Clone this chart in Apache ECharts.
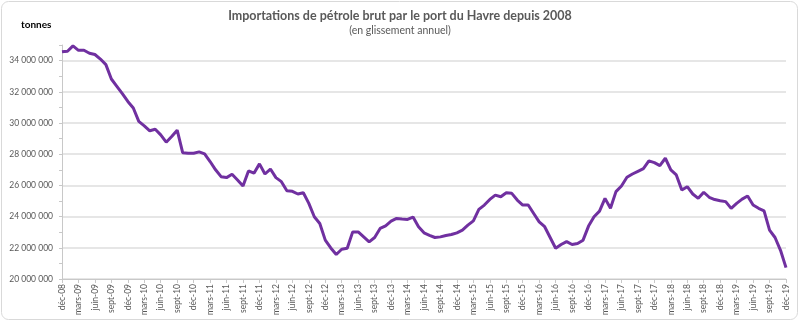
<!DOCTYPE html>
<html><head><meta charset="utf-8">
<script src="https://cdn.jsdelivr.net/npm/echarts@6/dist/echarts.min.js"></script>
<style>html,body{margin:0;padding:0;background:#fff}#c{width:800px;height:322px}</style>
</head><body><div id="c"></div>
<script>
const monthNames = ['janv','févr','mars','avr','mai','juin','juil','août','sept','oct','nov','déc'];
const startYear = 2008, startMonth = 11, nMonths = 133;
const categories = [];
for (let i = 0; i < nMonths; i++) {
  const m = (startMonth + i) % 12;
  const y = startYear + Math.floor((startMonth + i) / 12);
  categories.push(monthNames[m] + '-' + String(y % 100).padStart(2, '0'));
}
const imports = [
  34.56,34.6,34.94,34.66,34.66,34.47,34.39,34.1,33.74,32.82,
  32.35,31.88,31.38,30.96,30.1,29.82,29.5,29.6,29.24,28.77,
  29.13,29.54,28.1,28.06,28.06,28.15,28.02,27.53,27.0,26.56,
  26.5,26.71,26.35,25.96,26.93,26.78,27.38,26.73,27.05,26.5,
  26.24,25.66,25.62,25.45,25.53,24.85,23.99,23.56,22.49,21.99,
  21.57,21.91,21.97,23.02,23.02,22.7,22.38,22.66,23.24,23.41,
  23.71,23.88,23.84,23.82,23.97,23.35,22.96,22.8,22.66,22.7,
  22.79,22.85,22.96,23.13,23.45,23.73,24.46,24.74,25.1,25.38,
  25.27,25.53,25.49,25.06,24.74,24.74,24.2,23.66,23.35,22.66,
  21.97,22.21,22.4,22.21,22.27,22.49,23.39,23.99,24.35,25.17,
  24.53,25.6,25.96,26.52,26.73,26.9,27.07,27.57,27.46,27.27,
  27.74,26.99,26.67,25.7,25.92,25.45,25.17,25.56,25.24,25.09,
  25.02,24.96,24.53,24.85,25.12,25.32,24.74,24.53,24.37,23.13,
  22.66,21.84,20.73
].map(v => Math.round(v * 1e6));
const titleText = 'Importations de pétrole brut par le port du Havre depuis 2008';
const subtitleText = '(en glissement annuel)';
const unitText = 'tonnes';

function fmt(v){ return String(Math.round(v)).replace(/\B(?=(\d{3})+(?!\d))/g, ' '); }

const chart = echarts.init(document.getElementById('c'), null, {renderer:'canvas'});
chart.setOption({
  animation:false,
  textStyle:{fontFamily:'Lato'},
  title:[
    {text:titleText, left:'center', top:4, textStyle:{fontSize:12.5, fontWeight:'bold', color:'#595959', fontFamily:'Lato'}},
    {text:subtitleText, left:'center', top:20, textStyle:{fontSize:10.5, fontWeight:'normal', color:'#595959', fontFamily:'Lato'}},
    {text:unitText, left:16, top:15, textStyle:{fontSize:10, fontWeight:'bold', color:'#000', fontFamily:'Lato'}}
  ],
  graphic:[{type:'rect', shape:{x:1.5,y:1.5,width:796,height:318,r:7}, style:{fill:'none', stroke:'#d9d9d9', lineWidth:1}, silent:true, z:-1}],
  grid:{left:62, right:14, top:45, bottom:43, containLabel:false},
  xAxis:{
    type:'category', data:categories, boundaryGap:false,
    axisLine:{lineStyle:{color:'#c8c8c8', width:1}},
    axisTick:{show:true, interval:2, length:4, lineStyle:{color:'#c8c8c8'}},
    axisLabel:{interval:2, rotate:90, fontSize:8.5, color:'#595959', margin:5, fontFamily:'Lato'},
    splitLine:{show:false}
  },
  yAxis:{
    type:'value', min:20000000, max:35000000, interval:2000000,
    axisLine:{show:true, lineStyle:{color:'#c8c8c8', width:1}},
    axisTick:{show:true, length:3, lineStyle:{color:'#c8c8c8'}},
    minorTick:{show:true, splitNumber:2, length:3, lineStyle:{color:'#c8c8c8'}},
    axisLabel:{formatter:fmt, fontSize:8.5, color:'#595959', margin:9, showMaxLabel:false, fontFamily:'Lato'},
    splitLine:{show:true, showMaxLine:false, lineStyle:{color:'#dedede', width:1.5}}
  },
  series:[{type:'line', data:imports, symbol:'none', smooth:false,
    lineStyle:{color:'#7030A0', width:3}, itemStyle:{color:'#7030A0'}}]
});
</script></body></html>
